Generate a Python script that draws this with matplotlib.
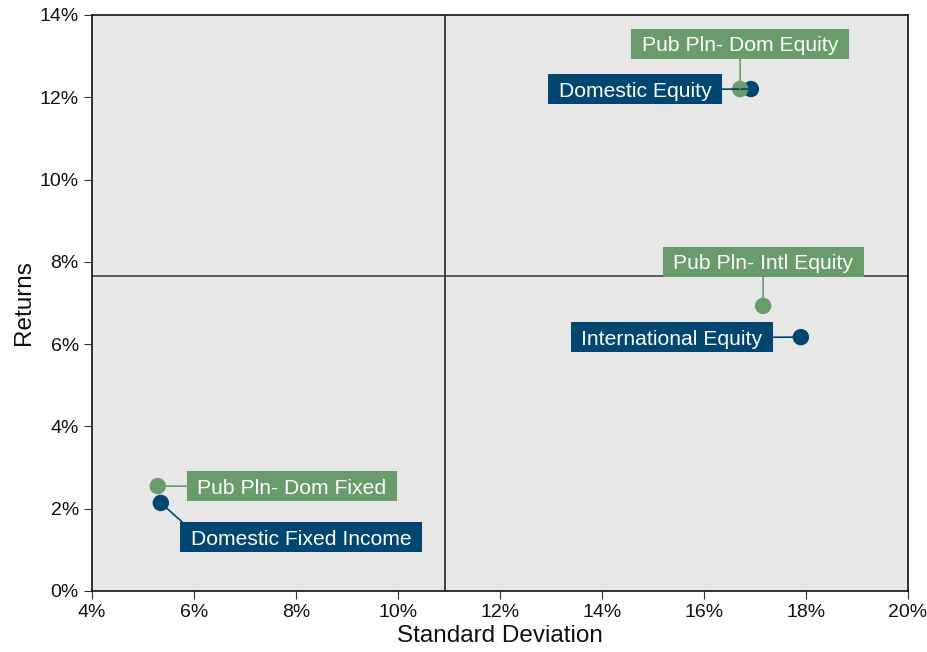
import matplotlib
matplotlib.use("Agg")
import matplotlib.pyplot as plt
from matplotlib.ticker import FuncFormatter
from matplotlib.path import Path

plt.rcParams['font.family'] = ['Liberation Sans', 'DejaVu Sans']

# Data
names_bench = ["Domestic Equity", "International Equity", "Domestic Fixed Income"]
sd_bench = [16.92, 17.90, 5.35]
ret_bench = [12.20, 6.17, 2.14]

names_plan = ["Pub Pln- Dom Equity", "Pub Pln- Intl Equity", "Pub Pln- Dom Fixed"]
sd_plan = [16.71, 17.16, 5.29]
ret_plan = [12.20, 6.93, 2.55]

label_pos_bench = [(14.65, 12.15), (15.37, 6.12), (8.10, 1.26)]
label_pos_plan = [(16.71, 13.25), (17.16, 7.95), (7.92, 2.50)]
relpos_bench = [(1.0, 0.6), (1.0, 0.6), (0.0, 1.0)]
relpos_plan = [(0.5, 0.0), (0.5, 0.0), (0.0, 0.6)]

avg_sd = 10.92
avg_ret = 7.66

xticks = [4, 6, 8, 10, 12, 14, 16, 18, 20]
yticks = [0, 2, 4, 6, 8, 10, 12, 14]

navy = "#00466e"
green = "#6a9b6a"


def label_box(x0, y0, width, height, mutation_size):
    px = 0.50 * mutation_size
    pb = 0.16 * mutation_size
    pt = 0.36 * mutation_size
    x0, y0 = x0 - px, y0 - pb
    x1, y1 = x0 + width + 2 * px, y0 + height + pb + pt
    return Path([(x0, y0), (x1, y0), (x1, y1), (x0, y1), (x0, y0)], closed=True)


fig = plt.figure(figsize=(9.28, 6.52), dpi=100)
ax = fig.add_axes([0.0991, 0.0936, 0.8793, 0.8834])
ax.set_facecolor("#e7e7e7")
ax.set_xlim(4, 20)
ax.set_ylim(0, 14)
ax.set_xticks(xticks)
ax.set_yticks(yticks)
fmt = FuncFormatter(lambda v, p: f"{v:.0f}%")
ax.xaxis.set_major_formatter(fmt)
ax.yaxis.set_major_formatter(fmt)
ax.tick_params(labelsize=14, length=6, color="#333333", colors="#111111")
for s in ax.spines.values():
    s.set_color("#111111")
    s.set_linewidth(1.2)

ax.axvline(avg_sd, color="#222222", lw=1.2, zorder=1)
ax.axhline(avg_ret, color="#444444", lw=1.2, zorder=1)

ax.scatter(sd_bench, ret_bench, s=140, color=navy, zorder=3, edgecolors="none")
ax.scatter(sd_plan, ret_plan, s=140, color=green, zorder=4, edgecolors="none")

for n, x, y, lp, rp in zip(names_bench, sd_bench, ret_bench, label_pos_bench, relpos_bench):
    ax.annotate(n, xy=(x, y), xytext=lp, ha="center", va="center", fontsize=15.2,
                color="white", zorder=5,
                bbox=dict(boxstyle=label_box, fc=navy, ec="none"),
                arrowprops=dict(arrowstyle="-", color=navy, lw=1.2, shrinkA=0, shrinkB=0,
                                relpos=rp))

for n, x, y, lp, rp in zip(names_plan, sd_plan, ret_plan, label_pos_plan, relpos_plan):
    ax.annotate(n, xy=(x, y), xytext=lp, ha="center", va="center", fontsize=15.2,
                color="white", zorder=5,
                bbox=dict(boxstyle=label_box, fc=green, ec="none"),
                arrowprops=dict(arrowstyle="-", color=green, lw=1.2, shrinkA=0, shrinkB=0,
                                relpos=rp))

ax.set_xlabel("Standard Deviation", fontsize=17.5, color="#111111", labelpad=3)
ax.set_ylabel("Returns", fontsize=17.5, color="#111111", labelpad=3)

fig.savefig("out.png", dpi=100)
